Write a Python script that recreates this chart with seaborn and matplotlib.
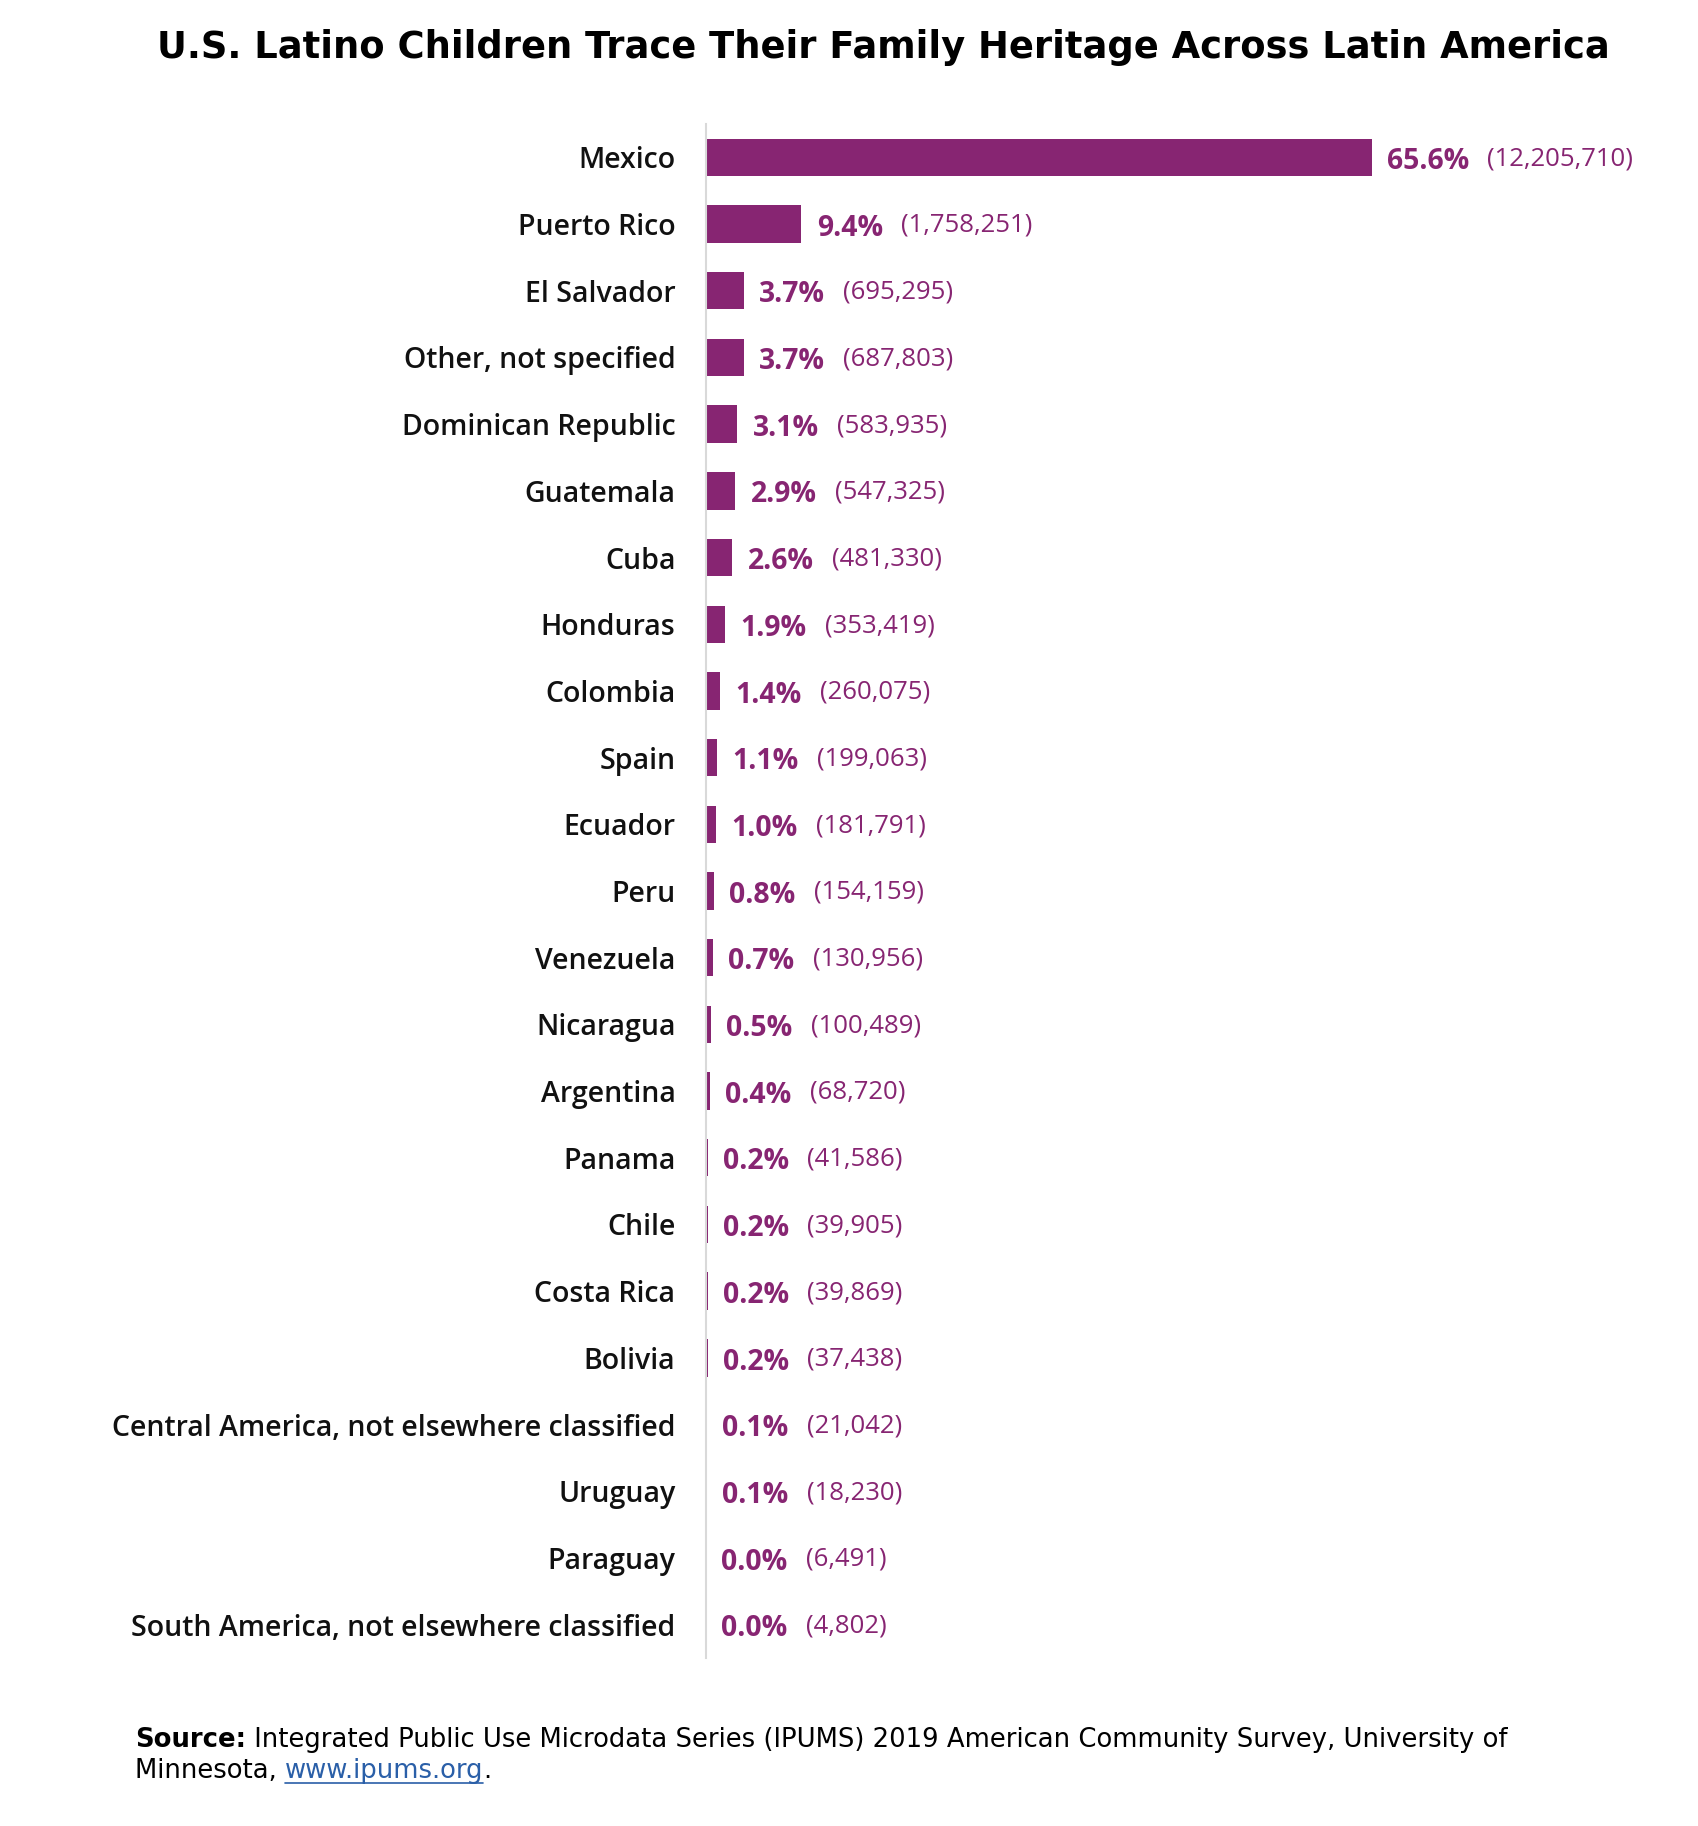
import matplotlib
matplotlib.use("Agg")
import matplotlib.pyplot as plt
import seaborn as sns
import pandas as pd
from matplotlib.lines import Line2D

countries = ["Mexico", "Puerto Rico", "El Salvador", "Other, not specified",
             "Dominican Republic", "Guatemala", "Cuba", "Honduras", "Colombia",
             "Spain", "Ecuador", "Peru", "Venezuela", "Nicaragua", "Argentina",
             "Panama", "Chile", "Costa Rica", "Bolivia",
             "Central America, not elsewhere classified", "Uruguay", "Paraguay",
             "South America, not elsewhere classified"]
percents = [65.6, 9.4, 3.7, 3.7, 3.1, 2.9, 2.6, 1.9, 1.4, 1.1, 1.0, 0.8, 0.7,
            0.5, 0.4, 0.2, 0.2, 0.2, 0.2, 0.1, 0.1, 0.0, 0.0]
counts = [12205710, 1758251, 695295, 687803, 583935, 547325, 481330, 353419,
          260075, 199063, 181791, 154159, 130956, 100489, 68720, 41586, 39905,
          39869, 37438, 21042, 18230, 6491, 4802]
title = "U.S. Latino Children Trace Their Family Heritage Across Latin America"

PURPLE = "#872572"
df = pd.DataFrame({"country": countries, "pct": percents, "count": counts})

sns.set_theme(style="white")
plt.rcParams["font.family"] = ["Open Sans", "DejaVu Sans"]

W, H = 1699, 1826
fig = plt.figure(figsize=(W / 100, H / 100), dpi=100)
ax_left, ax_right = 706 / W, 1650 / W
ax_top, ax_bot = 1 - 124 / H, 1 - 1658 / H
ax = fig.add_axes([ax_left, ax_bot, ax_right - ax_left, ax_top - ax_bot])

sns.barplot(data=df, y="country", x="pct", color=PURPLE, saturation=1,
            width=0.56, orient="h", ax=ax, edgecolor="none")
ax.set_xlim(0, 93)
ax.set_ylim(len(countries) - 0.5, -0.5)
ax.set_xlabel("")
ax.set_ylabel("")
ax.set_xticks([])
for s in ["top", "right", "bottom"]:
    ax.spines[s].set_visible(False)
ax.spines["left"].set_color("#d9d9d9")
ax.spines["left"].set_linewidth(1.5)
ax.tick_params(axis="y", length=0, pad=22)
for lbl in ax.get_yticklabels():
    lbl.set_fontsize(20.5)
    lbl.set_fontweight(600)
    lbl.set_color("#111111")

for i, (p, c) in enumerate(zip(percents, counts)):
    t = ax.annotate(f"{p:.1f}%", xy=(p, i), xytext=(11, -3),
                    textcoords="offset points", va="center", ha="left",
                    fontsize=20.4, fontweight="bold", color=PURPLE)
    ax.annotate(f"({c:,})", xy=(1, 0.5), xycoords=t, xytext=(13, 2),
                textcoords="offset points", va="center", ha="left",
                fontsize=18.5, color=PURPLE)

fig.text(883 / W, 1 - 48 / H, title, ha="center", va="center",
         fontsize=26.6, fontweight="bold", color="black",
         family=["DejaVu Sans"])

# Source note
SRC_FONT = ["DejaVu Sans"]
SRC_SIZE = 18.6
sx = 135 / W
t1 = fig.text(sx, 1 - 1740 / H, "Source:", ha="left", va="center",
              fontsize=SRC_SIZE, fontweight="bold", family=SRC_FONT,
              color="black")
t2 = ax.annotate(" Integrated Public Use Microdata Series (IPUMS) 2019 American Community Survey, University of",
                 xy=(1, 0.5), xycoords=t1, va="center", ha="left",
                 fontsize=SRC_SIZE, family=SRC_FONT, color="black",
                 annotation_clip=False)
t3 = fig.text(sx, 1 - 1771 / H, "Minnesota, ", ha="left", va="center",
              fontsize=SRC_SIZE, family=SRC_FONT, color="black")
t4 = ax.annotate("www.ipums.org", xy=(1, 0.5), xycoords=t3, va="center",
                 ha="left", fontsize=SRC_SIZE, color="#2a5fa8",
                 family=SRC_FONT, annotation_clip=False)
t5 = ax.annotate(".", xy=(1, 0.5), xycoords=t4, va="center", ha="left",
                 fontsize=SRC_SIZE, family=SRC_FONT, color="black",
                 annotation_clip=False)
fig.canvas.draw()
bb = t4.get_window_extent()
uy = bb.y0 + 1
fig.add_artist(Line2D([bb.x0 / W, bb.x1 / W], [uy / H, uy / H],
                      color="#2a5fa8", linewidth=1.2))

fig.savefig("out.png", dpi=100, facecolor="white")
